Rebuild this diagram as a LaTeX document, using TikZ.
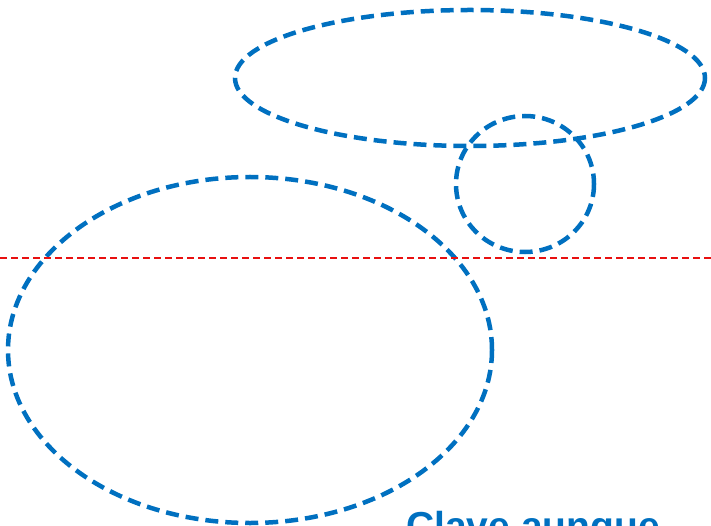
\documentclass[tikz,border=0pt]{standalone}
\usepackage{fontspec}
\setmainfont{Liberation Sans}
\usetikzlibrary{positioning}
\definecolor{setblue}{HTML}{0070C0}
\definecolor{cutred}{HTML}{E81010}

\begin{document}
\begin{tikzpicture}[
  x=1pt, y=-1pt,
  setline/.style={draw=setblue, line width=4.5pt, dash pattern=on 13pt off 7pt},
  cutline/.style={draw=cutred, line width=1.6pt, dash pattern=on 7pt off 4pt},
  note/.style={text=setblue, font=\fontsize{39}{39}\bfseries\selectfont, anchor=base west, inner sep=0pt}
]
\useasboundingbox (0,0) rectangle (711,526);
% sets
\draw[setline] (470,78) ellipse [x radius=235, y radius=68];
\draw[setline] (525,184) ellipse [x radius=69, y radius=68];
\draw[setline] (250,350) ellipse [x radius=242, y radius=173];
% cutting line
\coordinate (cutL) at (0,258);
\coordinate (cutR) at (711,258);
\draw[cutline] (cutL) -- (cutR);
\node[note] (clave) at (406,539) {Clave aunque};
\end{tikzpicture}
\end{document}
